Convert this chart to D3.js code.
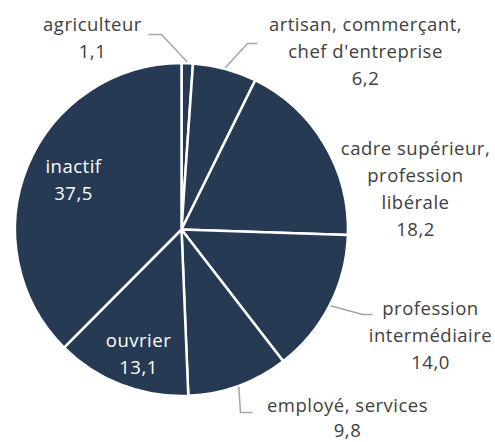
<!DOCTYPE html>
<html>
<head>
<meta charset="utf-8">
<script src="https://cdnjs.cloudflare.com/ajax/libs/d3/7.8.5/d3.min.js"></script>
<style>
  body { margin: 0; background: #fff; }
  text { font-family: "Open Sans", sans-serif; }
</style>
</head>
<body>
<script>
// data
var categories = ["agriculteur", "artisan, commerçant, chef d'entreprise", "cadre supérieur, profession libérale",
                  "profession intermédiaire", "employé, services", "ouvrier", "inactif"];
var values = [1.1, 6.2, 18.2, 14.0, 9.8, 13.1, 37.5];
var labelLines = [
    ["agriculteur"],
    ["artisan, commerçant,", "chef d'entreprise"],
    ["cadre supérieur,", "profession", "libérale"],
    ["profession", "intermédiaire"],
    ["employé, services"],
    ["ouvrier"],
    ["inactif"]
];
var valueLabels = ["1,1", "6,2", "18,2", "14,0", "9,8", "13,1", "37,5"];

// layout: label anchor relative to pie centre, line gap, inside flag, leader bend
var labelAt = [
    {dx: -89, dy: -199, gap: 27, inside: false, bend: [[-20, -195], [-33, -195]]},
    {dx: 184, dy: -199, gap: 27, inside: false, bend: [[66, -186], [76, -186]]},
    {dx: 234, dy: -75, gap: 27, inside: false, bend: null},
    {dx: 249, dy: 85, gap: 27, inside: false, bend: [[181, 85], [191, 85]]},
    {dx: 166, dy: 182, gap: 25, inside: false, bend: [[59, 183], [71, 183]]},
    {dx: -43, dy: 117, gap: 27, inside: true, bend: null},
    {dx: -108, dy: -57, gap: 27, inside: true, bend: null}
];

var width = 495, height = 442;
var cx = 181.5, cy = 229.5, radius = 166.5;

var svg = d3.select("body").append("svg")
    .attr("width", width)
    .attr("height", height);

var g = svg.append("g")
    .attr("transform", "translate(" + cx + "," + cy + ")");

var pie = d3.pie().sort(null).value(function(d) { return d; });
var arcs = pie(values);
var arc = d3.arc().innerRadius(0).outerRadius(radius);

// slices
g.selectAll("path.slice")
    .data(arcs)
    .enter().append("path")
    .attr("class", "slice")
    .attr("d", arc)
    .attr("fill", "#263a54")
    .attr("stroke", "#fff")
    .attr("stroke-width", 2.5);

// leader lines
arcs.forEach(function(a, i) {
    var p = labelAt[i];
    if (!p.bend) return;
    var mid = (a.startAngle + a.endAngle) / 2;
    var start = [Math.sin(mid) * (radius + 1), -Math.cos(mid) * (radius + 1)];
    g.append("polyline")
        .attr("points", [start].concat(p.bend).map(function(q) { return q.join(","); }).join(" "))
        .attr("fill", "none")
        .attr("stroke", "#a6a6a6")
        .attr("stroke-width", 1.5);
});

// labels
labelLines.forEach(function(lines, i) {
    var p = labelAt[i];
    var all = lines.concat([valueLabels[i]]);
    var t = g.append("text")
        .attr("text-anchor", "middle")
        .style("font-size", "18.5px")
        .style("letter-spacing", "0.5px")
        .style("fill", p.inside ? "#ffffff" : "#404040");
    all.forEach(function(s, k) {
        t.append("tspan")
            .attr("x", p.dx)
            .attr("y", p.dy + k * p.gap)
            .text(s);
    });
});
</script>
</body>
</html>
